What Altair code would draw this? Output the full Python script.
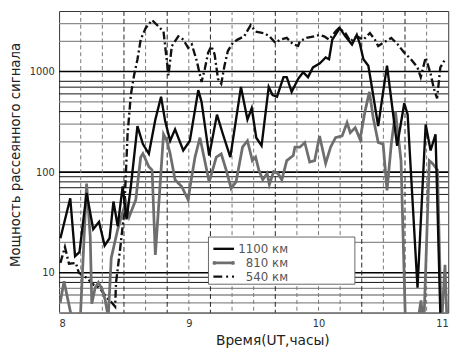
import altair as alt
import pandas as pd

# ---- data (time in UT hours, power) ----
t_1100 = [8.01, 8.086, 8.123, 8.157, 8.212, 8.263, 8.308, 8.351, 8.389, 8.419, 8.452, 8.49, 8.52, 8.553,
          8.604, 8.646, 8.692, 8.742, 8.786, 8.818, 8.856, 8.894, 8.957, 9.008, 9.073, 9.098, 9.157, 9.217,
          9.263, 9.32, 9.402, 9.452, 9.485, 9.52, 9.561, 9.616, 9.646, 9.68, 9.73, 9.755, 9.793, 9.843,
          9.881, 9.919, 9.957, 10.008, 10.03, 10.055, 10.081, 10.106, 10.139, 10.164, 10.207, 10.258,
          10.295, 10.32, 10.346, 10.384, 10.409, 10.46, 10.498, 10.528, 10.606, 10.661, 10.687, 10.763,
          10.826, 10.864, 10.902, 10.939, 10.955]
v_1100 = [22, 55, 14.6, 16, 62, 27, 32, 18.6, 22, 51, 29, 72, 34, 72,
          287, 190, 152, 333, 562, 320, 205, 266, 164, 205, 653, 500, 146, 373,
          238, 141, 703, 333, 432, 220, 183, 703, 584, 562, 880, 880, 628, 847,
          985, 880, 1100, 1200, 1280, 1380, 1326, 2075, 2410, 2700, 2240, 1860,
          2320, 1860, 1326, 1144, 730, 287, 628, 1144, 183, 484, 375, 7.1,
          298, 164, 238, 3.9, 3.0]

t_810 = [8.008, 8.038, 8.089, 8.121, 8.164, 8.212, 8.24, 8.252, 8.278, 8.303, 8.333, 8.356, 8.379, 8.402,
         8.452, 8.49, 8.515, 8.54, 8.591, 8.629, 8.646, 8.692, 8.717, 8.742, 8.805, 8.831, 8.856, 8.894,
         8.945, 8.995, 9.01, 9.048, 9.086, 9.123, 9.157, 9.212, 9.25, 9.288, 9.326, 9.364, 9.414, 9.452,
         9.49, 9.515, 9.54, 9.57, 9.604, 9.621, 9.654, 9.687, 9.717, 9.755, 9.805, 9.818, 9.856, 9.894,
         9.932, 9.97, 10.008, 10.055, 10.093, 10.131, 10.182, 10.22, 10.245, 10.283, 10.32, 10.358,
         10.392, 10.422, 10.46, 10.498, 10.528, 10.561, 10.593, 10.636, 10.669, 10.758, 10.79, 10.811,
         10.854, 10.879, 10.917, 10.947, 10.975, 10.992]
v_810 = [5.0, 8.2, 4.0, 2.8, 3.6, 77, 23, 4.9, 7.1, 8.0, 6.8, 5.3, 3.6, 14,
         27, 40, 50, 36, 53, 141, 153, 113, 105, 15, 238, 205, 153, 84,
         72, 53, 72, 141, 220, 130, 80, 141, 152, 105, 69, 80, 177, 205,
         130, 141, 105, 84, 97, 75, 101, 97, 84, 130, 146, 177, 177, 197,
         126, 130, 229, 122, 177, 220, 229, 310, 247, 277, 212, 400,
         628, 345, 197, 190, 66, 190, 400, 130, 3.6, 2.8, 5.3, 2.8,
         130, 122, 105, 2.8, 12, 2.8]

t_540 = [8.01, 8.045, 8.076, 8.129, 8.152, 8.212, 8.265, 8.311, 8.364, 8.402, 8.432, 8.439, 8.47, 8.502,
         8.528, 8.553, 8.578, 8.604, 8.629, 8.667, 8.717, 8.767, 8.805, 8.843, 8.869, 8.919, 8.957,
         8.995, 9.023, 9.061, 9.098, 9.123, 9.149, 9.174, 9.199, 9.225, 9.25, 9.275, 9.301, 9.339,
         9.376, 9.427, 9.477, 9.515, 9.578, 9.621, 9.667, 9.705, 9.755, 9.805, 9.843, 9.856, 9.907,
         9.97, 10.008, 10.043, 10.081, 10.131, 10.157, 10.207, 10.245, 10.295, 10.346, 10.396, 10.434,
         10.46, 10.498, 10.561, 10.611, 10.661, 10.712, 10.763, 10.788, 10.826, 10.864, 10.889, 10.914,
         10.939, 10.977]
v_540 = [12.5, 18, 12.3, 12.5, 10, 8.9, 7.6, 7.1, 5.7, 5.1, 4.6, 8, 17, 40,
         240, 585, 920, 1320, 2080, 2700, 3250, 2800, 2500, 915, 1790, 2240, 2080,
         1720, 1860, 1280, 787, 1060, 1540, 1790, 1480, 847, 757, 1144, 1600, 1930,
         2080, 2240, 2900, 2500, 2410, 2250, 1930, 2080, 2160, 1860, 1800, 2000, 2160,
         2240, 2320, 2240, 2080, 2500, 2700, 2410, 2000, 2240, 2080, 2410, 2080,
         1790, 1930, 2160, 1860, 1540, 1330, 1100, 880, 1380, 950, 680, 540,
         1100, 1330]

series_names = ["1100 км", "810 км", "540 км"]
x_ticks = [8, 9, 10, 11]
y_ticks = [10, 100, 1000]
vgrid_dark = [8.5, 8.8333, 9.1667, 9.6667, 10.3333, 10.6667]
vgrid_light = [8.1667, 8.3333, 8.6667, 9.0, 9.3333, 9.5, 9.8333, 10.0, 10.1667, 10.5, 10.8333]
hgrid_major = [10, 100, 1000]
hgrid_dark = [8, 9, 60, 70, 80, 90, 400, 600, 700, 800]
hgrid_gray = [4, 5, 6, 7, 20, 30, 40, 50, 200, 300, 500, 2000, 3000]

FONT = "DejaVu Sans"
xscale = alt.Scale(domain=[8, 11], nice=False, zero=False)
yscale = alt.Scale(type="log", domain=[4, 4000], nice=False)

xaxis = alt.Axis(values=x_ticks, ticks=False, grid=False, domain=False, format="d",
                 labelFont=FONT, labelFontSize=10, labelColor="#333", labelPadding=6,
                 title="Время(UT,часы)", titleFont=FONT, titleFontSize=14, titleFontWeight="normal",
                 titleColor="#222", titleX=217, titleY=32, titleBaseline="alphabetic", titleAlign="center")
yaxis = alt.Axis(values=y_ticks, ticks=False, grid=False, domain=False, format="d",
                 labelFont=FONT, labelFontSize=10, labelColor="#333", labelPadding=5,
                 title="Мощность рассеянного сигнала", titleFont=FONT, titleFontSize=13.5,
                 titleFontWeight="normal", titleColor="#222", titleX=-51, titleY=146,
                 titleAngle=270, titleBaseline="top", titleAlign="center")

X = lambda: alt.X("t:Q", scale=xscale, axis=xaxis)
Y = lambda: alt.Y("v:Q", scale=yscale, axis=yaxis)

layers = []
layers.append(alt.Chart(pd.DataFrame({"v": hgrid_gray})).mark_rule(color="#8c8c8c", strokeWidth=1.3).encode(y=Y()))
layers.append(alt.Chart(pd.DataFrame({"v": hgrid_dark})).mark_rule(color="#111", strokeWidth=1).encode(y=Y()))
layers.append(alt.Chart(pd.DataFrame({"v": hgrid_major})).mark_rule(color="#000", strokeWidth=1.6).encode(y=Y()))
layers.append(alt.Chart(pd.DataFrame({"t": vgrid_light})).mark_rule(color="#777", strokeWidth=1, strokeDash=[4, 3]).encode(x=X()))
layers.append(alt.Chart(pd.DataFrame({"t": vgrid_dark})).mark_rule(color="#222", strokeWidth=1, strokeDash=[5, 3]).encode(x=X()))

df540 = pd.DataFrame({"t": t_540, "v": v_540})
df810 = pd.DataFrame({"t": t_810, "v": v_810})
df1100 = pd.DataFrame({"t": t_1100, "v": v_1100})

layers.append(alt.Chart(df540).mark_line(color="#111", strokeWidth=2.4, strokeDash=[8, 3, 2, 3], clip=True).encode(x=X(), y=Y()))
layers.append(alt.Chart(df810).mark_line(color="#6e6e6e", strokeWidth=2.8, clip=True).encode(x=X(), y=Y()))
layers.append(alt.Chart(df1100).mark_line(color="#0a0a0a", strokeWidth=2.4, clip=True).encode(x=X(), y=Y()))

# ---- legend box ----
one = pd.DataFrame({"a": [0]})
layers.append(alt.Chart(one).mark_rect(fill="white", stroke="#666", strokeWidth=1).encode(
    x=alt.value(152), x2=alt.value(301), y=alt.value(230), y2=alt.value(278)))
rows = [242, 256.3, 270.3]
styles = [dict(color="#0a0a0a", strokeWidth=2.4),
          dict(color="#6e6e6e", strokeWidth=2.8),
          dict(color="#111", strokeWidth=2.4, strokeDash=[9, 4, 2, 4])]
for name, yy, st in zip(series_names, rows, styles):
    layers.append(alt.Chart(one).mark_rule(**st).encode(x=alt.value(157), x2=alt.value(178), y=alt.value(yy)))
    layers.append(alt.Chart(one).mark_text(align="right", baseline="middle", font=FONT, fontSize=12,
                                           color="#555").encode(x=alt.value(233), y=alt.value(yy),
                                                                text=alt.value(name)))
layers.append(alt.Chart(one).mark_point(filled=True, size=14, color="#6e6e6e", opacity=1).encode(
    x=alt.value(158), y=alt.value(256.3)))
layers.append(alt.Chart(one).mark_point(filled=True, size=14, color="#6e6e6e", opacity=1).encode(
    x=alt.value(177), y=alt.value(256.3)))

chart = alt.layer(*layers).properties(
    width=396, height=307,
    padding={"left": 52, "top": 0, "right": 14, "bottom": 42},
    autosize=alt.AutoSizeParams(type="none"),
).configure_view(stroke="#333", strokeWidth=1)

chart.save("out.html", embed_options={"renderer": "svg", "actions": False})
